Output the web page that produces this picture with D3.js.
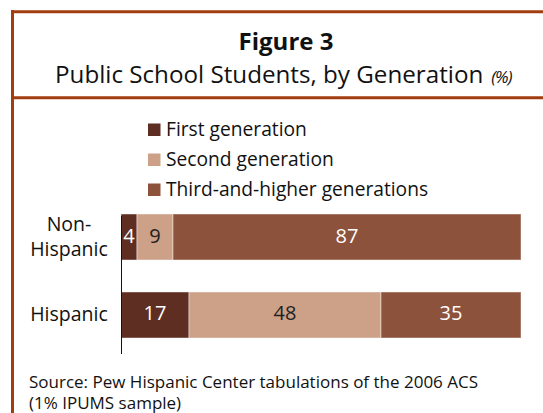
<!DOCTYPE html>
<html><head><meta charset="utf-8">
<script src="https://cdn.jsdelivr.net/npm/d3@7"></script>
<style>body{margin:0;background:#fff}svg{display:block}text{font-family:"Open Sans",sans-serif}</style>
</head><body><svg id="c" width="543" height="413"></svg>
<script>
const categories = ["Non-Hispanic", "Hispanic"];
const categoryLines = [["Non-", "Hispanic"], ["Hispanic"]];
const seriesNames = ["First generation", "Second generation", "Third-and-higher generations"];
const firstGen = [4, 17];
const secondGen = [9, 48];
const thirdGen = [87, 35];
const colors = ["#5e2e23", "#cda088", "#8d523b"];
const labelColors = ["#ffffff", "#222222", "#ffffff"];

const svg = d3.select("#c");
const border = "#a23d0f";
// frame
svg.append("line").attr("x1", 12.5).attr("x2", 12.5).attr("y1", 10).attr("y2", 413).attr("stroke", border).attr("stroke-width", 3);
svg.append("line").attr("x1", 11).attr("x2", 543).attr("y1", 11.75).attr("y2", 11.75).attr("stroke", border).attr("stroke-width", 3);
svg.append("line").attr("x1", 11).attr("x2", 543).attr("y1", 97.75).attr("y2", 97.75).attr("stroke", border).attr("stroke-width", 3);

svg.append("text").attr("x", 286).attr("y", 49.5).attr("text-anchor", "middle")
  .attr("font-size", 24).attr("font-weight", "bold").attr("fill", "#111").text("Figure 3");
const sub = svg.append("text").attr("x", 55).attr("y", 83).attr("font-size", 24.2).attr("fill", "#111");
sub.append("tspan").text("Public School Students, by Generation");
sub.append("tspan").attr("font-size", 17).attr("font-style", "italic").attr("dx", 8).attr("letter-spacing", -1).text("(%)");

// data table
const rows = categories.map((c, i) => ({ cat: c, vals: [firstGen[i], secondGen[i], thirdGen[i]] }));
const stack = d3.stack().keys([0, 1, 2]).value((d, k) => d.vals[k]);
const layers = stack(rows);

const x = d3.scaleLinear().domain([0, 100]).range([121, 521]);
const y = d3.scaleBand().domain(categories).range([198.4, 353.6]).paddingInner(0.41).paddingOuter(0.2);

// legend
const leg = svg.append("g");
seriesNames.forEach((s, i) => {
  const g = leg.append("g").attr("transform", `translate(148,${123.5 + i * 30})`);
  g.append("rect").attr("width", 12.5).attr("height", 12.5).attr("fill", colors[i]);
  g.append("text").attr("x", 18).attr("y", 12.8).attr("font-size", 19.2).attr("fill", "#111").text(s);
});

// bars
layers.forEach((layer, k) => {
  svg.append("g").selectAll("rect").data(layer).join("rect")
    .attr("x", d => x(d[0])).attr("width", d => x(d[1]) - x(d[0]))
    .attr("y", d => y(d.data.cat)).attr("height", y.bandwidth())
    .attr("fill", colors[k]).attr("stroke", "rgba(255,255,255,0.45)").attr("stroke-width", 1);
  svg.append("g").selectAll("text").data(layer).join("text")
    .attr("x", d => (x(d[0]) + x(d[1])) / 2)
    .attr("y", d => y(d.data.cat) + y.bandwidth() / 2 + 5.5)
    .attr("text-anchor", "middle").attr("font-size", 20).attr("fill", labelColors[k])
    .text(d => d.data.vals[k]);
});

// axis
const yAxis = svg.append("g").attr("transform", "translate(121.5,0)")
  .call(d3.axisLeft(y).tickSize(0).tickFormat(""));
yAxis.select(".domain").attr("d", "M0,216V354").attr("stroke", "#111");

// category labels
categories.forEach((c, i) => {
  const lines = categoryLines[i];
  const cy = y(c) + y.bandwidth() / 2;
  const t = svg.append("text").attr("text-anchor", "middle").attr("font-size", 19.5).attr("fill", "#111");
  lines.forEach((l, j) => {
    t.append("tspan").attr("x", 69).attr("y", cy + 6 + (j - (lines.length - 1) / 2) * 25).text(l);
  });
});

// source
const src = svg.append("text").attr("font-size", 17).attr("fill", "#111");
src.append("tspan").attr("x", 29).attr("y", 388).text("Source: Pew Hispanic Center tabulations of the 2006 ACS");
src.append("tspan").attr("x", 29).attr("y", 409).text("(1% IPUMS sample)");
</script></body></html>
